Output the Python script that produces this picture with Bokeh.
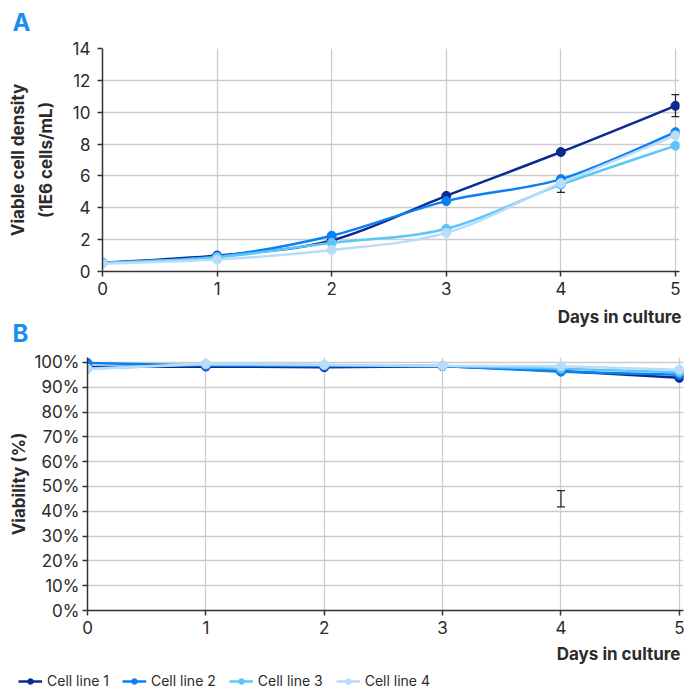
import numpy as np
from bokeh.plotting import figure
from bokeh.layouts import column
from bokeh.models import (Range1d, Title, Label, Legend, LegendItem, Whisker, ColumnDataSource,
                          FixedTicker, PrintfTickFormatter, TeeHead)
from bokeh.embed import file_html
from bokeh.resources import INLINE

# ---------------- data ----------------
days = [0, 1, 2, 3, 4, 5]
series_names = ["Cell line 1", "Cell line 2", "Cell line 3", "Cell line 4"]
colors = ["#0b2a94", "#0a80f2", "#5cc6f8", "#b8dcfa"]

vcd_cl1 = [0.55, 1.0, 1.95, 4.75, 7.5, 10.4]
vcd_cl2 = [0.55, 0.95, 2.25, 4.42, 5.8, 8.75]
vcd_cl3 = [0.55, 0.9, 1.8, 2.68, 5.45, 7.9]
vcd_cl4 = [0.5, 0.75, 1.35, 2.43, 5.55, 8.55]

via_cl1 = [98.2, 98.4, 98.1, 98.5, 96.6, 93.8]
via_cl2 = [99.8, 98.8, 98.6, 98.6, 96.3, 95.0]
via_cl3 = [97.6, 99.2, 98.9, 98.6, 97.5, 96.1]
via_cl4 = [97.4, 99.5, 99.1, 98.7, 98.5, 97.1]

vcd_err_day = [2, 4, 5]
vcd_err_low = [2.05, 4.97, 9.72]
vcd_err_high = [2.35, 5.8, 11.1]

via_err_day = [4]
via_err_low = [41.8]
via_err_high = [48.3]

vcd_ticks = [0, 2, 4, 6, 8, 10, 12, 14]
via_ticks = [0, 10, 20, 30, 40, 50, 60, 70, 80, 90, 100]

FONT = "Inter"
TXT = "#2b2b2b"
BLUE = "#1a8cf5"


def smooth_segments(x, y):
    x = np.asarray(x, float)
    y = np.asarray(y, float)
    n = len(x)
    xp = np.concatenate([[x[0]], x, [x[-1]]])
    yp = np.concatenate([[y[0]], y, [y[-1]]])
    i = np.arange(n - 1)
    return dict(
        x0=xp[i + 1], y0=yp[i + 1], x1=xp[i + 2], y1=yp[i + 2],
        cx0=xp[i + 1] + (xp[i + 2] - xp[i]) / 6.0,
        cy0=yp[i + 1] + (yp[i + 2] - yp[i]) / 6.0,
        cx1=xp[i + 2] - (xp[i + 3] - xp[i + 1]) / 6.0,
        cy1=yp[i + 2] - (yp[i + 3] - yp[i + 1]) / 6.0,
    )


def style(p, yticks, ystand):
    p.outline_line_color = None
    p.background_fill_color = "white"
    p.border_fill_color = "white"
    for ax in (p.xaxis[0], p.yaxis[0]):
        ax.axis_line_color = "#333333"
        ax.axis_line_width = 1.5
        ax.major_tick_line_color = "#333333"
        ax.major_tick_line_width = 1.5
        ax.major_tick_out = 5
        ax.major_tick_in = 0
        ax.minor_tick_line_color = None
        ax.major_label_text_font = FONT
        ax.major_label_text_font_size = "17px"
        ax.major_label_text_color = TXT
        ax.axis_label_text_font = FONT
        ax.axis_label_text_font_size = "17px"
        ax.axis_label_text_font_style = "bold"
        ax.axis_label_text_color = TXT
        ax.axis_label_text_line_height = 1.4
    p.xaxis[0].ticker = FixedTicker(ticks=days)
    p.yaxis[0].ticker = FixedTicker(ticks=yticks)
    p.xaxis[0].major_label_standoff = 5
    p.yaxis[0].major_label_standoff = ystand
    p.xgrid[0].ticker = FixedTicker(ticks=days)
    p.ygrid[0].ticker = FixedTicker(ticks=yticks)
    for g in (p.xgrid[0], p.ygrid[0]):
        g.grid_line_color = "#cccccc"
        g.grid_line_width = 1.3


def text_strip(h, texts):
    """A blank strip whose ranges equal its own pixel grid (y downward), holding text labels."""
    s = figure(width=684, height=h, x_range=Range1d(0, 684), y_range=Range1d(h, 0),
               output_backend="svg", toolbar_location=None, min_border=0,
               x_axis_location=None, y_axis_location=None)
    s.grid.visible = False
    s.outline_line_color = None
    for (tx, px, py, size, color, align) in texts:
        s.add_layout(Label(x=px, y=py, text=tx, text_font=FONT, text_font_size=size,
                           text_font_style="bold", text_color=color, text_align=align,
                           text_baseline="alphabetic"))
    return s


# ---------------- strip with panel letter A ----------------
strip_a = text_strip(40, [("A", 12, 22, "24px", BLUE, "left")])

# ---------------- panel A ----------------
top = figure(width=684, height=262, x_range=Range1d(0, 5.035), y_range=Range1d(0, 14),
             output_backend="svg", toolbar_location=None,
             min_border_left=102, min_border_right=5, min_border_top=8, min_border_bottom=31)
style(top, vcd_ticks, 7)
top.yaxis[0].axis_label = "Viable cell density\n(1E6 cells/mL)"
top.yaxis[0].axis_label_standoff = 14

for vals, col in zip([vcd_cl1, vcd_cl2, vcd_cl3, vcd_cl4], colors):
    seg = ColumnDataSource(smooth_segments(days, vals))
    top.bezier(x0="x0", y0="y0", x1="x1", y1="y1", cx0="cx0", cy0="cy0", cx1="cx1", cy1="cy1",
               source=seg, line_color=col, line_width=2.5)
    top.scatter(days, vals, size=9, fill_color=col, line_color=col)

top.add_layout(Whisker(base="x", lower="lo", upper="hi",
                       source=ColumnDataSource(dict(x=vcd_err_day, lo=vcd_err_low, hi=vcd_err_high)),
                       line_color="#222222", line_width=1.2,
                       upper_head=TeeHead(size=8, line_color="#222222", line_width=1.2),
                       lower_head=TeeHead(size=8, line_color="#222222", line_width=1.2)))

# ---------------- strip: x title of A and panel letter B ----------------
strip_b = text_strip(45, [("Days in culture", 681, 14, "17px", TXT, "right"),
                          ("B", 12, 31, "24px", BLUE, "left")])

# ---------------- panel B ----------------
bot = figure(width=684, height=321, x_range=Range1d(0, 5.035), y_range=Range1d(0, 102),
             output_backend="svg", toolbar_location=None,
             min_border_left=87, min_border_right=1, min_border_top=10, min_border_bottom=58)
style(bot, via_ticks, 3)
bot.yaxis[0].formatter = PrintfTickFormatter(format="%d%%")
bot.yaxis[0].axis_label = "Viability (%)"
bot.yaxis[0].axis_label_standoff = 2
bot.add_layout(Title(text="Days in culture", align="right", text_font=FONT, text_font_size="17px",
                     text_font_style="bold", text_color=TXT, standoff=10, offset=3,
                     text_line_height=1.0), "below")

for vals, col in zip([via_cl1, via_cl2, via_cl3, via_cl4], colors):
    bot.line(days, vals, line_color=col, line_width=2.5)
    bot.scatter(days, vals, size=9, fill_color=col, line_color=col)

bot.add_layout(Whisker(base="x", lower="lo", upper="hi",
                       source=ColumnDataSource(dict(x=via_err_day, lo=via_err_low, hi=via_err_high)),
                       line_color="#222222", line_width=1.2,
                       upper_head=TeeHead(size=8, line_color="#222222", line_width=1.2),
                       lower_head=TeeHead(size=8, line_color="#222222", line_width=1.2)))

# ---------------- legend strip ----------------
leg = figure(width=684, height=28, x_range=Range1d(10, 11), y_range=Range1d(500, 501),
             output_backend="svg", toolbar_location=None, min_border=0,
             x_axis_location=None, y_axis_location=None)
leg.grid.visible = False
leg.outline_line_color = None
items = []
for name, vals, col in zip(series_names, [via_cl1, via_cl2, via_cl3, via_cl4], colors):
    lr = leg.line(days, vals, line_color=col, line_width=2.5)
    sr = leg.scatter(days, vals, size=8, fill_color=col, line_color=col)
    items.append(LegendItem(label=name, renderers=[lr, sr]))
legend = Legend(items=items, orientation="horizontal", location=(18, 7),
                glyph_width=24, glyph_height=14, label_text_font=FONT,
                label_text_font_size="14px", label_text_color=TXT, spacing=13,
                padding=0, margin=0, border_line_color=None, background_fill_alpha=0,
                label_standoff=5)
leg.add_layout(legend)

layout = column(column(strip_a), column(top), column(strip_b), column(bot), column(leg), spacing=0)
open("out.html", "w").write(file_html(layout, INLINE))
